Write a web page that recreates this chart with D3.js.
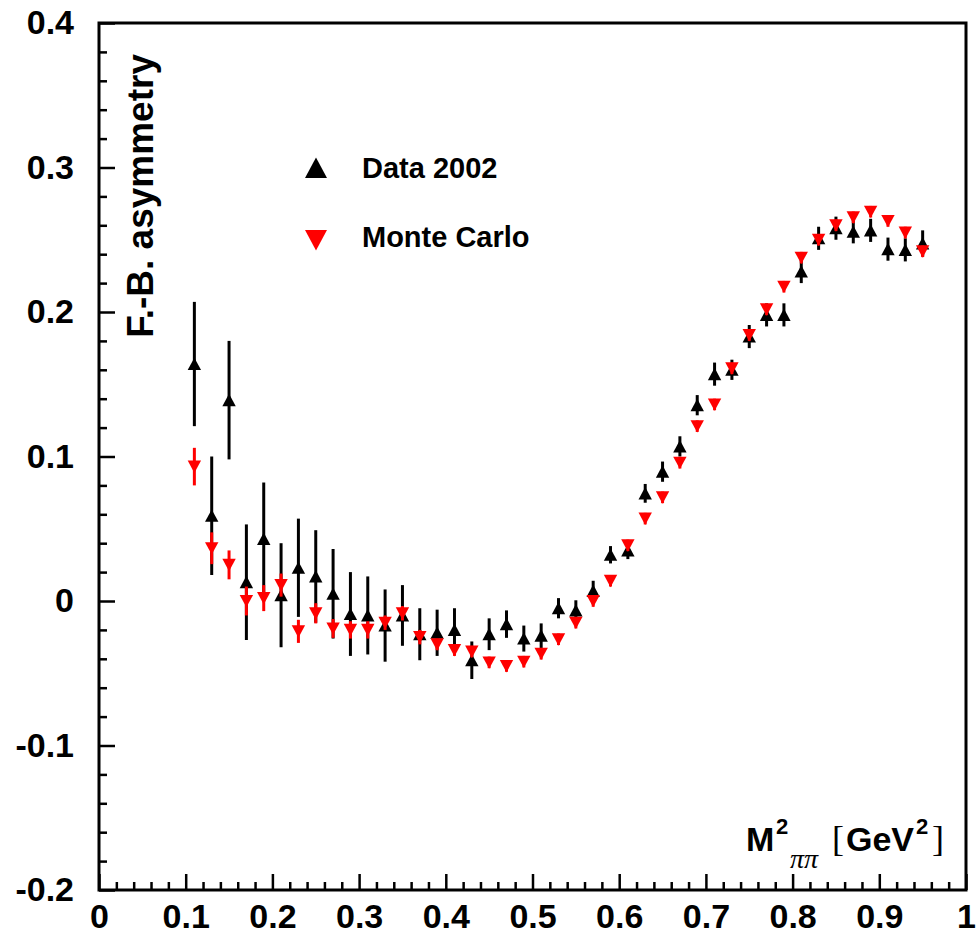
<!DOCTYPE html>
<html>
<head>
<meta charset="utf-8">
<script src="https://cdn.jsdelivr.net/npm/d3@7"></script>
<style>
  body { margin: 0; background: #fff; }
  svg { display: block; }
  text { font-family: "Liberation Sans", Arial, Helvetica, sans-serif; font-weight: bold; }
</style>
</head>
<body>
<div id="chart"></div>
<script>
// bin centres in M^2 (GeV^2)
var mass = [0.11, 0.13, 0.15, 0.17, 0.19, 0.21, 0.23, 0.25, 0.27, 0.29,
            0.31, 0.33, 0.35, 0.37, 0.39, 0.41, 0.43, 0.45, 0.47, 0.49,
            0.51, 0.53, 0.55, 0.57, 0.59, 0.61, 0.63, 0.65, 0.67, 0.69,
            0.71, 0.73, 0.75, 0.77, 0.79, 0.81, 0.83, 0.85, 0.87, 0.89,
            0.91, 0.93, 0.95];

// Data 2002
var dataAsym = [0.164, 0.059, 0.139, 0.013, 0.043, 0.004, 0.023, 0.017, 0.005, -0.009,
                -0.010, -0.017, -0.010, -0.023, -0.022, -0.020, -0.041, -0.023, -0.016, -0.026,
                -0.024, -0.005, -0.0065, 0.007, 0.032, 0.035, 0.0745, 0.0895, 0.107, 0.1355,
                0.157, 0.160, 0.183, 0.198, 0.198, 0.228, 0.251, 0.258, 0.2555, 0.2565,
                0.2435, 0.243, 0.2475];
var dataErr = [0.043, 0.041, 0.041, 0.040, 0.039, 0.036, 0.034, 0.032, 0.031, 0.029,
               0.027, 0.025, 0.021, 0.018, 0.016, 0.015, 0.013, 0.011, 0.0095, 0.009,
               0.0085, 0.007, 0.007, 0.007, 0.006, 0.006, 0.0065, 0.007, 0.007, 0.007,
               0.008, 0.007, 0.008, 0.008, 0.008, 0.008, 0.008, 0.008, 0.008, 0.008,
               0.008, 0.008, 0.009];

// Monte Carlo
var mcAsym = [0.093, 0.0365, 0.025, 0.000, 0.002, 0.011, -0.021, -0.0085, -0.019, -0.020,
              -0.020, -0.015, -0.0085, -0.025, -0.030, -0.034, -0.035, -0.0425, -0.045, -0.042,
              -0.0365, -0.0265, -0.015, 0.000, 0.014, 0.0385, 0.057, 0.0717, 0.0957, 0.121,
              0.136, 0.161, 0.184, 0.2018, 0.2175, 0.2376, 0.250, 0.260, 0.2655, 0.2694,
              0.263, 0.255, 0.242];
var mcErr = [0.013, 0.011, 0.010, 0.010, 0.009, 0.008, 0.008, 0.007, 0.0065, 0.006,
             0.006, 0.005, 0.005, 0.005, 0.004, 0.004, 0.004, 0.004, 0.004, 0.004,
             0.004, 0.004, 0.004, 0.004, 0.004, 0.004, 0.004, 0.004, 0.004, 0.004,
             0.004, 0.004, 0.004, 0.004, 0.004, 0.004, 0.004, 0.004, 0.004, 0.004,
             0.004, 0.004, 0.004];

var xTicks = [0, 0.1, 0.2, 0.3, 0.4, 0.5, 0.6, 0.7, 0.8, 0.9, 1];
var xTickLabels = ["0", "0.1", "0.2", "0.3", "0.4", "0.5", "0.6", "0.7", "0.8", "0.9", "1"];
var yTicks = [-0.2, -0.1, 0, 0.1, 0.2, 0.3, 0.4];
var yTickLabels = ["-0.2", "-0.1", "0", "0.1", "0.2", "0.3", "0.4"];

var svgWidth = 978;
var svgHeight = 938;

var margin = { top: 23, right: 12, bottom: 48, left: 99 };
var width = svgWidth - margin.left - margin.right;
var height = svgHeight - margin.top - margin.bottom;

var svg = d3.select("#chart")
  .append("svg")
  .attr("width", svgWidth)
  .attr("height", svgHeight);

var chartGroup = svg.append("g")
  .attr("transform", `translate(${margin.left}, ${margin.top})`);

var xScale = d3.scaleLinear().domain([0, 1]).range([0, width]);
var yScale = d3.scaleLinear().domain([-0.2, 0.4]).range([height, 0]);

// minor ticks every 0.02
var xMinor = d3.range(0, 51).map(i => i / 50).filter(v => xTicks.indexOf(v) < 0);
var yMinor = d3.range(-10, 21).map(i => i / 50).filter(v => yTicks.indexOf(v) < 0);

function styleAxis(g) {
  g.select(".domain").remove();
  g.selectAll("line").attr("stroke", "#000").attr("stroke-width", 2.5);
  g.selectAll("text").attr("fill", "#000").style("font-size", "34px");
}

chartGroup.append("g")
  .attr("transform", `translate(0, ${height})`)
  .call(d3.axisBottom(xScale).tickValues(xMinor).tickSize(-8).tickFormat(""))
  .call(styleAxis);

chartGroup.append("g")
  .attr("transform", `translate(0, ${height})`)
  .call(d3.axisBottom(xScale).tickValues(xTicks).tickSize(-16).tickPadding(14)
    .tickFormat((d, i) => xTickLabels[i]))
  .call(styleAxis);

chartGroup.append("g")
  .call(d3.axisLeft(yScale).tickValues(yMinor).tickSize(-8).tickFormat(""))
  .call(styleAxis);

chartGroup.append("g")
  .call(d3.axisLeft(yScale).tickValues(yTicks).tickSize(-16).tickPadding(25)
    .tickFormat((d, i) => yTickLabels[i]))
  .call(styleAxis);

// frame
chartGroup.append("rect")
  .attr("width", width)
  .attr("height", height)
  .attr("fill", "none")
  .attr("stroke", "#000")
  .attr("stroke-width", 3);

function upTri(s) {
  return `M${-s},${s * 0.9}L${s},${s * 0.9}L0,${-s * 0.95}Z`;
}
function downTri(s) {
  return `M${-s},${-s * 0.9}L${s},${-s * 0.9}L0,${s * 0.95}Z`;
}

function drawSeries(vals, errs, color, shape) {
  var pts = mass.map((m, i) => ({ x: m, y: vals[i], e: errs[i] }));
  chartGroup.append("g").selectAll("line")
    .data(pts)
    .enter()
    .append("line")
    .attr("x1", d => xScale(d.x))
    .attr("x2", d => xScale(d.x))
    .attr("y1", d => yScale(d.y + d.e))
    .attr("y2", d => yScale(d.y - d.e))
    .attr("stroke", color)
    .attr("stroke-width", 3);
  chartGroup.append("g").selectAll("path")
    .data(pts)
    .enter()
    .append("path")
    .attr("transform", d => `translate(${xScale(d.x)}, ${yScale(d.y)})`)
    .attr("d", shape(6.7))
    .attr("fill", color);
}

drawSeries(dataAsym, dataErr, "#000", upTri);
drawSeries(mcAsym, mcErr, "#ff0000", downTri);

// legend
var legend = svg.append("g");
legend.append("path")
  .attr("transform", "translate(316, 168)")
  .attr("d", upTri(11))
  .attr("fill", "#000");
legend.append("text")
  .attr("x", 362).attr("y", 178)
  .style("font-size", "29px")
  .text("Data 2002");
legend.append("path")
  .attr("transform", "translate(316, 240)")
  .attr("d", downTri(11))
  .attr("fill", "#ff0000");
legend.append("text")
  .attr("x", 362).attr("y", 247)
  .style("font-size", "29px")
  .text("Monte Carlo");

// y axis title
svg.append("text")
  .attr("transform", "translate(153, 54) rotate(-90)")
  .attr("text-anchor", "end")
  .style("font-size", "37px")
  .text("F.-B. asymmetry");

// x axis title: M^2_{pi pi} [GeV^2]
var xt = svg.append("g");
xt.append("text").attr("x", 746).attr("y", 851).style("font-size", "34px").text("M");
xt.append("text").attr("x", 776).attr("y", 834).style("font-size", "22px").text("2");
xt.append("text").attr("x", 790).attr("y", 868)
  .style("font-family", "'Liberation Serif', 'Times New Roman', serif")
  .style("font-weight", "normal").style("font-style", "italic")
  .style("font-size", "28px").text("ππ");
xt.append("text").attr("x", 832).attr("y", 851)
  .style("font-family", "'Liberation Serif', 'Times New Roman', serif")
  .style("font-weight", "normal").style("font-size", "36px").text("[");
xt.append("text").attr("x", 846).attr("y", 851).style("font-size", "34px").text("GeV");
xt.append("text").attr("x", 916).attr("y", 834).style("font-size", "22px").text("2");
xt.append("text").attr("x", 932).attr("y", 851)
  .style("font-family", "'Liberation Serif', 'Times New Roman', serif")
  .style("font-weight", "normal").style("font-size", "36px").text("]");
</script>
</body>
</html>
